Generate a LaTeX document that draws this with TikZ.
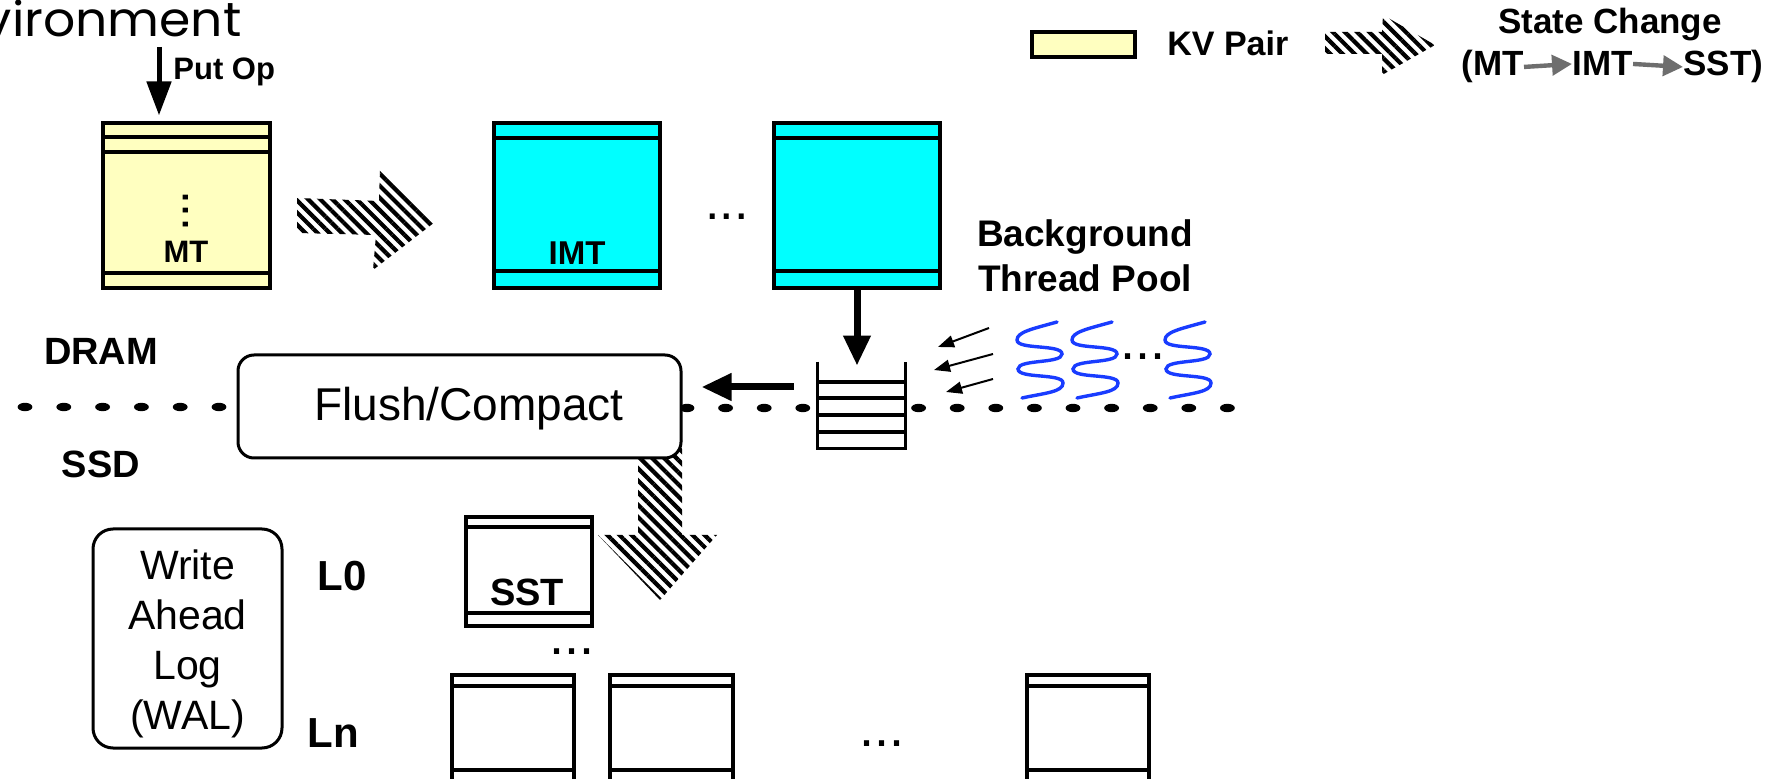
\documentclass[tikz,border=0pt]{standalone}
\usepackage{fontspec}
\usepackage{graphicx}
\setmainfont{Liberation Sans}
\newfontfamily\geofont{Poppins}
\usetikzlibrary{arrows.meta,patterns.meta,calc}
\definecolor{kvyellow}{RGB}{255,255,192}
\definecolor{imtcyan}{RGB}{0,255,255}
\definecolor{threadblue}{RGB}{25,60,255}
\definecolor{legendgray}{RGB}{110,110,110}
\tikzset{
  lbl/.style={font=\bfseries\fontsize{#1}{#1}\selectfont, inner sep=0pt, anchor=base},
  reg/.style={font=\fontsize{#1}{#1}\selectfont, inner sep=0pt, anchor=center},
  tblbox/.style={draw, line width=1.6pt, inner sep=0pt},
  tblline/.style={line width=1.6pt},
  hatch/.style={pattern={Lines[angle=-45,distance=4.3pt,line width=2.1pt]}, pattern color=black},
  bigarr/.style={line width=3.5pt, -{Triangle[length=15pt,width=13pt]}},
  putarr/.style={line width=2.5pt, -{Triangle[length=17pt,width=12pt]}},
  smallarr/.style={line width=1pt, -{Triangle[length=8pt,width=6pt]}},
  grayarr/.style={line width=2.2pt, legendgray, -{Triangle[length=10pt,width=10pt]}},
  squig/.style={threadblue, line width=1.7pt, line cap=round},
  sepdot/.style={fill=black},
}
\begin{document}
\begin{tikzpicture}[x=0.5pt,y=-0.5pt]
\useasboundingbox (0,0) rectangle (1786,779);
\fill[white] (0,0) rectangle (1786,779);

% DRAM / SSD separator dots
\foreach \i in {0,...,5} \fill[sepdot] ({25+38.8*\i},407) ellipse [x radius=3.7pt, y radius=2.1pt];
\foreach \i in {0,...,14} \fill[sepdot] ({687+38.6*\i},408) ellipse [x radius=3.7pt, y radius=2.1pt];

% environment text
\node[inner sep=0pt, anchor=base east, font=\geofont\fontsize{24}{24}\selectfont] (env) at (242,37) {\scalebox{1.05}[1]{vironment}};

% MemTable
\node[tblbox, fill=kvyellow, minimum width=83.5pt, minimum height=82.5pt] (mt) at (186.5,205.5) {};
\draw[tblline] (103,137) -- (270,137) (103,152) -- (270,152) (103,273) -- (270,273);
\node[reg=25, rotate=90] (mtdots) at (186,211) {...};
\node[lbl=15.5] (mtlbl) at (186,263) {MT};
\coordinate (putop) at (159,47);
\draw[putarr, shorten >=3pt] (putop) -- (putop |- mt.north);
\node[lbl=15.5, anchor=base west] (putlbl) at (173,80) {Put Op};

% state change arrow MT -> IMT
\fill[hatch] (297,198) -- (379,201) -- (380,168) -- (435,222) -- (373,270) -- (376,235) -- (297,233) -- cycle;

% Immutable MemTables
\node[tblbox, fill=imtcyan, minimum width=83pt, minimum height=82.5pt] (imt1) at (577,205.5) {};
\draw[tblline] (494,138) -- (660,138) (494,271) -- (660,271);
\node[lbl=16.5] (imtlbl) at (577,265) {IMT};
\node[reg=26] (imtdots) at (727,217) {...};
\node[tblbox, fill=imtcyan, minimum width=83pt, minimum height=82.5pt] (imt2) at (857,205.5) {};
\draw[tblline] (774,138) -- (940,138) (774,271) -- (940,271);

% Background thread pool
\node[lbl=18.5] (bg1) at (1085,247) {Background};
\node[lbl=18.5] (bg2) at (1085,292) {Thread Pool};
\foreach \dx in {0,55,148} {
  \begin{scope}[shift={(\dx,0)}]
  \draw[squig] (1057,322) .. controls (1032,329) and (1017,332) .. (1017,340)
     .. controls (1017,350) and (1062,344) .. (1062,354)
     .. controls (1062,364) and (1018,359) .. (1018,369)
     .. controls (1018,379) and (1063,373) .. (1063,383)
     .. controls (1063,392) and (1045,393) .. (1022,398);
  \end{scope}
}
\node[reg=27] (thdots) at (1143,357) {...};
\coordinate (t1s) at (989,328); \coordinate (t1e) at (938,347);
\coordinate (t2s) at (993,354); \coordinate (t2e) at (934,370);
\coordinate (t3s) at (993,379); \coordinate (t3e) at (946,392);
\draw[smallarr] (t1s) -- (t1e);
\draw[smallarr] (t2s) -- (t2e);
\draw[smallarr] (t3s) -- (t3e);

% queue
\node[fill=white, inner sep=0pt, minimum width=43.5pt, minimum height=43pt] (queue) at (861.5,405) {};
\draw[tblline] (queue.north west) -- (queue.south west) -- (queue.south east) -- (queue.north east);
\foreach \y in {382,398,415,432} \draw[tblline] (818,\y) -- (905,\y);
\draw[bigarr, shorten >=-2pt] (imt2.south) -- (imt2.south |- queue.north);

% state change arrow down to SST
\fill[hatch] (638,440) -- (682,440) -- (682,535) -- (717,535) -- (660,600) -- (598,535) -- (638,535) -- cycle;

% Flush / Compact
\node[draw, rounded corners=8pt, line width=1.5pt, fill=white, minimum width=221.5pt, minimum height=51.5pt, inner sep=0pt] (flush) at (459.5,406.5) {};
\node[inner sep=0pt, font=\fontsize{23}{23}\selectfont] (flushlbl) at (469,409) {Flush/Compact};
\draw[bigarr] ([xshift=-12pt,yshift=9pt]queue.west) -- ([xshift=9.5pt,yshift=9.75pt]flush.east);

\node[lbl=19] (dram) at (101,365) {DRAM};
\node[lbl=19] (ssd) at (101,478) {SSD};

% WAL
\node[draw, rounded corners=10pt, line width=1.5pt, minimum width=94.5pt, minimum height=109.5pt, inner sep=0pt] (wal) at (187.5,638.5) {};
\node[inner sep=0pt, align=center, font=\fontsize{20.5}{25}\selectfont] (wallbl) at (187.5,644) {Write\\Ahead\\Log\\(WAL)};

% levels
\node[lbl=21] (l0) at (342,590) {L0};
\node[lbl=21] (ln) at (333,747) {Ln};

\node[tblbox, minimum width=63pt, minimum height=54.5pt] (sst0) at (529,571.5) {};
\draw[tblline] (466,527) -- (592,527) (466,613) -- (592,613);
\node[lbl=19] (sstlbl) at (527,605) {SST};
\node[reg=27] (lvdots) at (572,652) {...};

\node[tblbox, minimum width=61pt, minimum height=53.5pt] (sstn1) at (513,728.5) {};
\draw[tblline] (452,686) -- (574,686) (452,770) -- (574,770);
\node[tblbox, minimum width=61.5pt, minimum height=53.5pt] (sstn2) at (671.5,728.5) {};
\draw[tblline] (610,686) -- (733,686) (610,770) -- (733,770);
\node[reg=27] (lndots) at (882,744) {...};
\node[tblbox, minimum width=61pt, minimum height=53.5pt] (sstn3) at (1088,728.5) {};
\draw[tblline] (1027,686) -- (1149,686) (1027,770) -- (1149,770);

% legend
\node[draw, line width=2pt, fill=kvyellow, minimum width=51.5pt, minimum height=12.5pt, inner sep=0pt] (kvbox) at (1083.5,44.5) {};
\node[lbl=17, anchor=base west] (kvlbl) at (1167,56) {KV Pair};
\fill[hatch] (1325,32) -- (1382,32) -- (1383,15) -- (1435,45) -- (1382,75) -- (1382,54) -- (1325,54) -- cycle;
\node[lbl=17.5] (sclbl) at (1610,34) {State Change};
\node[lbl=17.5, anchor=base west] (lmt) at (1461,76) {(MT};
\node[lbl=17.5, anchor=base west] (limt) at (1572,76) {IMT};
\node[lbl=17.5, anchor=base west] (lsst) at (1683,76) {SST)};
\draw[grayarr] (lmt.east) -- (limt.west);
\draw[grayarr] (limt.east) -- (lsst.west);
\end{tikzpicture}
\end{document}
